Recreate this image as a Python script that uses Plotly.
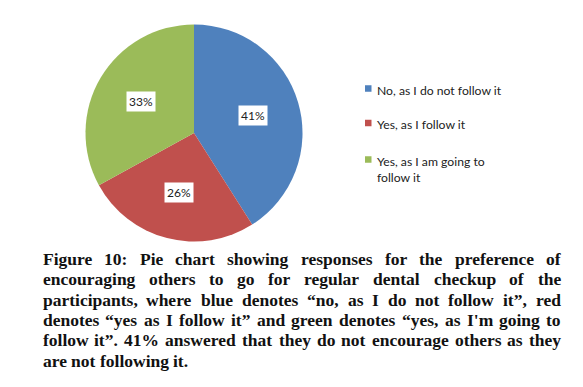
import math
import plotly.graph_objects as go

# ---- data ----
labels = ["No, as I do not follow it", "Yes, as I follow it", "Yes, as I am going to follow it"]
legend_text = ["No, as I do not follow it", "Yes, as I follow it", "Yes, as I am going to<br>follow it"]
values = [41, 26, 33]
colors = ["#4F81BD", "#C0504D", "#9BBB59"]
caption_lines = [
    "Figure 10: Pie chart showing responses for the preference of",
    "encouraging others to go for regular dental checkup of the",
    "participants, where blue denotes \u201cno, as I do not follow it\u201d, red",
    "denotes \u201cyes as I follow it\u201d and green denotes \u201cyes, as I'm going to",
    "follow it\u201d. 41% answered that they do not encourage others as they",
    "are not following it.",
]

W, H = 583, 387
CX, CY, R = 194, 133, 108.5  # pie centre / radius in pixels


def px(x):
    return x / W


def py(y):
    return 1 - y / H


fig = go.Figure()
fig.add_trace(go.Pie(
    labels=labels, values=values, sort=False, direction="clockwise", rotation=0,
    marker=dict(colors=colors, line=dict(width=0)),
    textinfo="none", hoverinfo="label+percent", showlegend=False,
    domain=dict(x=[px(CX - R), px(CX + R)], y=[py(CY + R), py(CY - R)]),
))

annotations = []
shapes = []

# percentage labels in white boxes at slice mid-angles
total = sum(values)
cum = 0
for v in values:
    mid = (cum + v / 2) / total * 2 * math.pi
    cum += v
    lx = CX + 0.57 * R * math.sin(mid)
    ly = CY - 0.57 * R * math.cos(mid)
    annotations.append(dict(
        x=px(lx), y=py(ly), xref="paper", yref="paper", showarrow=False,
        text=f"{round(v / total * 100)}%", font=dict(family="Lato", size=12, color="#222"),
        bgcolor="white", borderpad=2, xanchor="center", yanchor="middle",
    ))

# legend
leg_rows = [88.5, 123, 159.5]
for t, c, yy in zip(legend_text, colors, leg_rows):
    shapes.append(dict(type="rect", xref="paper", yref="paper",
                       x0=px(365), x1=px(371.5), y0=py(yy + 3.25), y1=py(yy - 3.25),
                       fillcolor=c, line=dict(width=0)))
    annotations.append(dict(
        x=px(375), y=py(yy - 8), xref="paper", yref="paper", showarrow=False,
        text=t, align="left", xanchor="left", yanchor="top",
        font=dict(family="Lato", size=12.2, color="#222"),
    ))

# caption, justified word by word (Times Bold metrics)
tw = {
    'a': 500, 'b': 556, 'c': 444, 'd': 556, 'e': 444, 'f': 333, 'g': 500, 'h': 556, 'i': 278,
    'j': 333, 'k': 556, 'l': 278, 'm': 833, 'n': 556, 'o': 500, 'p': 556, 'q': 556, 'r': 444,
    's': 389, 't': 333, 'u': 556, 'v': 500, 'w': 722, 'x': 500, 'y': 500, 'z': 444,
    'F': 611, 'I': 389, 'P': 611, '0': 500, '1': 500, '4': 500, ':': 333, ',': 250, '.': 250,
    '%': 1000, '\u201c': 500, '\u201d': 500, "'": 278, ' ': 250,
}
FS = 17.5
LEFT, RIGHT = 40.5, 559


def wwidth(w):
    return sum(tw.get(ch, 500) for ch in w) * FS / 1000


for i, line in enumerate(caption_lines):
    words = line.split(" ")
    y = 258.8 + 20.4 * i
    widths = [wwidth(w) for w in words]
    last = i == len(caption_lines) - 1
    if last or len(words) == 1:
        gap = 250 * FS / 1000
    else:
        gap = (RIGHT - LEFT - sum(widths)) / (len(words) - 1)
    x = LEFT
    for w, wd in zip(words, widths):
        annotations.append(dict(
            x=px(x), y=py(y), xref="paper", yref="paper", showarrow=False,
            text=w, xanchor="left", yanchor="middle",
            font=dict(family="Liberation Serif", size=FS, color="#111", weight="bold"),
        ))
        x += wd + gap

fig.update_layout(
    width=W, height=H, margin=dict(l=0, r=0, t=0, b=0),
    paper_bgcolor="white", plot_bgcolor="white",
    annotations=annotations, shapes=shapes, showlegend=False,
)
fig.write_html("out.html", config={"displayModeBar": False},
               post_script="document.body.style.margin='0';document.body.style.overflow='hidden';")
